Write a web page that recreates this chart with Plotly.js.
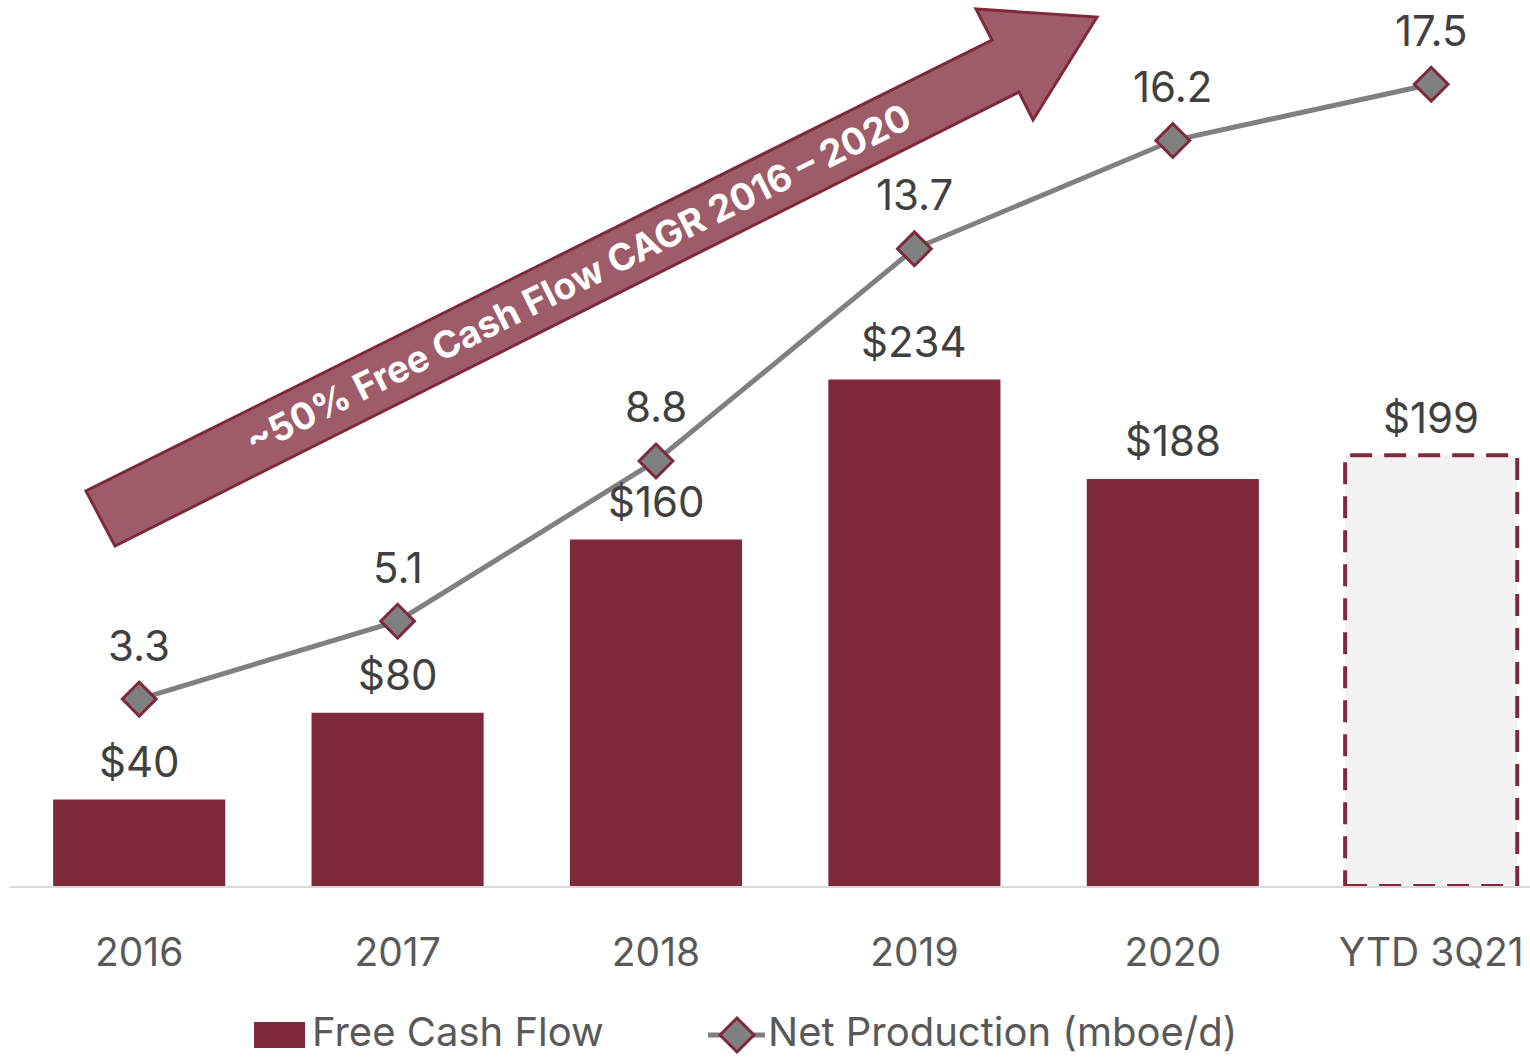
<!DOCTYPE html>
<html>
<head>
<meta charset="utf-8">
<script src="https://cdn.plot.ly/plotly-3.0.1.min.js"></script>
<style>
  html, body { margin: 0; padding: 0; background: #ffffff; }
  #chart { width: 1530px; height: 1058px; }
</style>
</head>
<body>
<div id="chart"></div>
<script>
// ---- data ----
const categories = ['2016', '2017', '2018', '2019', '2020', 'YTD 3Q21'];
const freeCashFlow = [40, 80, 160, 234, 188, 199];
const netProduction = [3.3, 5.1, 8.8, 13.7, 16.2, 17.5];
const barLabels = ['$40', '$80', '$160', '$234', '$188', '$199'];
const lineLabels = ['3.3', '5.1', '8.8', '13.7', '16.2', '17.5'];
const seriesNames = ['Free Cash Flow', 'Net Production (mboe/d)'];
const arrowText = '~50% Free Cash Flow CAGR 2016 \u2013 2020';

// ---- style ----
const FONT = 'Inter, "Open Sans", sans-serif';
const MAROON = '#7F2A3A';
const ARROW_FILL = '#9E5B69';
const LINE_GRAY = '#808080';
const LABEL = '#404040';
const TICK = '#595959';
const W = 1530, H = 1058;
const M = {l: 10, r: 0, t: 0, b: 172};
const PW = W - M.l - M.r, PH = H - M.t - M.b;
const BAR_W = 0.666;
const ytdIndex = categories.length - 1;

// pixel -> paper helpers (for decorations only)
const px = v => (v - M.l) / PW;
const py = v => (M.t + PH - v) / PH;

const barColors = categories.map((c, i) => i === ytdIndex ? '#F2F2F2' : MAROON);

const traces = [
  {
    type: 'bar',
    x: categories,
    y: freeCashFlow,
    name: seriesNames[0],
    width: BAR_W,
    marker: {color: barColors, line: {width: 0}},
    hoverinfo: 'skip',
    showlegend: false
  },
  {
    type: 'scatter',
    mode: 'lines+markers',
    x: categories,
    y: netProduction,
    yaxis: 'y2',
    name: seriesNames[1],
    line: {color: LINE_GRAY, width: 5},
    marker: {symbol: 'diamond', size: 26, color: LINE_GRAY, line: {color: MAROON, width: 3}},
    hoverinfo: 'skip',
    showlegend: false,
    cliponaxis: false
  }
];

const annotations = [];
categories.forEach((c, i) => {
  annotations.push({
    x: i, y: freeCashFlow[i], xref: 'x', yref: 'y',
    text: barLabels[i], showarrow: false, xanchor: 'center', yanchor: 'middle', yshift: 38,
    font: {family: FONT, size: 42, color: LABEL}
  });
  annotations.push({
    x: i, y: netProduction[i], xref: 'x', yref: 'y2',
    text: lineLabels[i], showarrow: false, xanchor: 'center', yanchor: 'middle', yshift: 54,
    font: {family: FONT, size: 42, color: LABEL}
  });
});

// arrow text
annotations.push({
  xref: 'paper', yref: 'paper', x: px(578), y: py(278), xanchor: 'center', yanchor: 'middle',
  text: '<b>' + arrowText + '</b>', showarrow: false, textangle: -26.5,
  font: {family: FONT, size: 37, color: '#ffffff'}
});

// legend texts
annotations.push({
  xref: 'paper', yref: 'paper', x: px(311), y: py(1031), xanchor: 'left', yanchor: 'middle',
  text: seriesNames[0], showarrow: false, borderpad: 0, font: {family: FONT, size: 40, color: TICK}
});
annotations.push({
  xref: 'paper', yref: 'paper', x: px(767), y: py(1031), xanchor: 'left', yanchor: 'middle',
  text: seriesNames[1], showarrow: false, borderpad: 0, font: {family: FONT, size: 40, color: TICK}
});

const arrowPts = [[115, 546], [86, 491], [992, 40], [976, 9], [1097, 17], [1033, 120], [1019, 92]];
const arrowPath = 'M' + arrowPts.map(p => px(p[0]) + ',' + py(p[1])).join(' L') + ' Z';

const dCx = 737, dCy = 1035, dR = 17;
const diamondPath = 'M' + [[dCx - dR, dCy], [dCx, dCy - dR], [dCx + dR, dCy], [dCx, dCy + dR]]
  .map(p => px(p[0]) + ',' + py(p[1])).join(' L') + ' Z';

const shapes = [
  // dashed outline of YTD bar
  {
    type: 'rect', xref: 'x', yref: 'y', layer: 'above',
    x0: ytdIndex - BAR_W / 2, x1: ytdIndex + BAR_W / 2, y0: 0, y1: freeCashFlow[ytdIndex],
    line: {color: MAROON, width: 4, dash: '22px,12px'}, fillcolor: 'rgba(0,0,0,0)'
  },
  // CAGR arrow
  {
    type: 'path', xref: 'paper', yref: 'paper', layer: 'above', path: arrowPath,
    fillcolor: ARROW_FILL, line: {color: MAROON, width: 3}
  },
  // legend: bar swatch
  {
    type: 'rect', xref: 'paper', yref: 'paper',
    x0: px(254), x1: px(305), y0: py(1048), y1: py(1022),
    fillcolor: MAROON, line: {width: 0}
  },
  // legend: line swatch
  {
    type: 'line', xref: 'paper', yref: 'paper',
    x0: px(708), x1: px(765), y0: py(1035), y1: py(1035),
    line: {color: LINE_GRAY, width: 5}
  },
  {
    type: 'path', xref: 'paper', yref: 'paper', path: diamondPath,
    fillcolor: LINE_GRAY, line: {color: MAROON, width: 3}
  }
];

const layout = {
  width: W, height: H,
  margin: M,
  paper_bgcolor: '#ffffff',
  plot_bgcolor: '#ffffff',
  showlegend: false,
  font: {family: FONT, color: TICK},
  xaxis: {
    type: 'category',
    range: [-0.5, -0.5 + PW / 258.4],
    showline: true, linecolor: '#D9D9D9', linewidth: 2,
    showgrid: false, zeroline: false, ticks: '',
    tickfont: {family: FONT, size: 39, color: TICK},
    ticklabelstandoff: 31,
    fixedrange: true
  },
  yaxis: {
    range: [0, PH / 2.165],
    visible: false, showgrid: false, zeroline: false, fixedrange: true
  },
  yaxis2: {
    overlaying: 'y', side: 'right',
    range: [-(PH - 842) / 43.3, 842 / 43.3],
    visible: false, showgrid: false, zeroline: false, fixedrange: true
  },
  annotations: annotations,
  shapes: shapes
};

Plotly.newPlot('chart', traces, layout, {displayModeBar: false, staticPlot: true});
</script>
</body>
</html>
